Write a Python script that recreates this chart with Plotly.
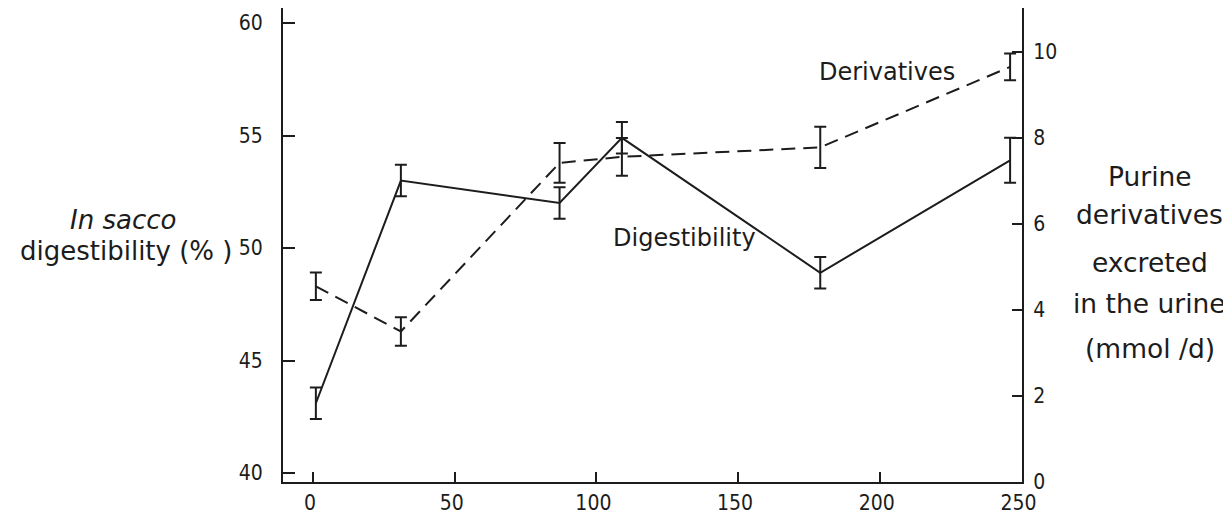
import plotly.graph_objects as go

# ---- data ----
x_vals = [1, 31, 87, 109, 179, 246]
digestibility = [43.1, 53.0, 52.0, 54.9, 48.9, 53.9]
digestibility_err = [0.7, 0.7, 0.7, 0.7, 0.7, 1.0]
derivatives = [4.55, 3.5, 7.42, 7.56, 7.78, 9.65]
derivatives_err = [0.32, 0.33, 0.46, 0.44, 0.48, 0.31]

x_ticks = [0, 50, 100, 150, 200, 250]
left_ticks = [40, 45, 50, 55, 60]
right_ticks = [0, 2, 4, 6, 8, 10]

INK = "#1c1c1c"
TICKFONT = dict(family="Liberation Sans Narrow, DejaVu Sans Condensed, DejaVu Sans, sans-serif",
                size=21, color=INK)
TXT = "DejaVu Sans, sans-serif"

fig = go.Figure()
fig.add_trace(go.Scatter(
    x=x_vals, y=digestibility, mode="lines", name="Digestibility",
    line=dict(color=INK, width=2),
    error_y=dict(type="data", array=digestibility_err, color=INK, thickness=2, width=6),
    yaxis="y", showlegend=False))
fig.add_trace(go.Scatter(
    x=x_vals, y=derivatives, mode="lines", name="Derivatives",
    line=dict(color=INK, width=2, dash="14px,8px"),
    error_y=dict(type="data", array=derivatives_err, color=INK, thickness=2, width=6),
    yaxis="y2", showlegend=False))

axis_common = dict(showgrid=False, zeroline=False, showline=True, linecolor=INK,
                   linewidth=2, ticks="inside", tickcolor=INK, tickwidth=1.5,
                   tickfont=TICKFONT, automargin=False)

# the page body adds an 8 px offset; margins compensate for it
fig.update_layout(
    width=1231, height=514,
    margin=dict(l=275, r=217, t=0, b=40),
    paper_bgcolor="white", plot_bgcolor="white",
    xaxis=dict(range=[-10.6, 250.2], tickvals=x_ticks, ticklen=10,
               ticklabelstandoff=1, ticklabelshift=-3, **axis_common),
    yaxis=dict(range=[39.6, 60.67], tickvals=left_ticks, ticklen=12,
               ticklabelstandoff=14, **axis_common),
    yaxis2=dict(range=[0, 11.02], tickvals=right_ticks, ticklen=10,
                overlaying="y", side="right", ticklabelstandoff=5, **axis_common),
)

ann = []
# in-plot series labels
ann.append(dict(x=202.7, y=9.53, xref="x", yref="y2", text="Derivatives",
                font=dict(family=TXT, size=24, color=INK)))
ann.append(dict(x=131.2, y=50.44, xref="x", yref="y", text="Digestibility",
                font=dict(family=TXT, size=24, color=INK)))
# left axis title
ann.append(dict(x=-0.2165, y=0.5527, xref="paper", yref="paper", text="<i>In sacco</i>",
                font=dict(family=TXT, size=26, color=INK)))
ann.append(dict(x=-0.213, y=0.4873, xref="paper", yref="paper", text="digestibility (% )",
                font=dict(family=TXT, size=26, color=INK)))
# right axis title
right_lines = ["Purine", "derivatives", "excreted", "in the urine", "(mmol /d)"]
right_y = [0.6435, 0.5633, 0.4641, 0.3776, 0.2827]
for t, yy in zip(right_lines, right_y):
    ann.append(dict(x=1.1732, y=yy, xref="paper", yref="paper", text=t,
                    font=dict(family=TXT, size=26.5, color=INK)))
for a in ann:
    a.update(showarrow=False, xanchor="center", yanchor="middle")
fig.update_layout(annotations=ann)

fig.write_html("out.html")
